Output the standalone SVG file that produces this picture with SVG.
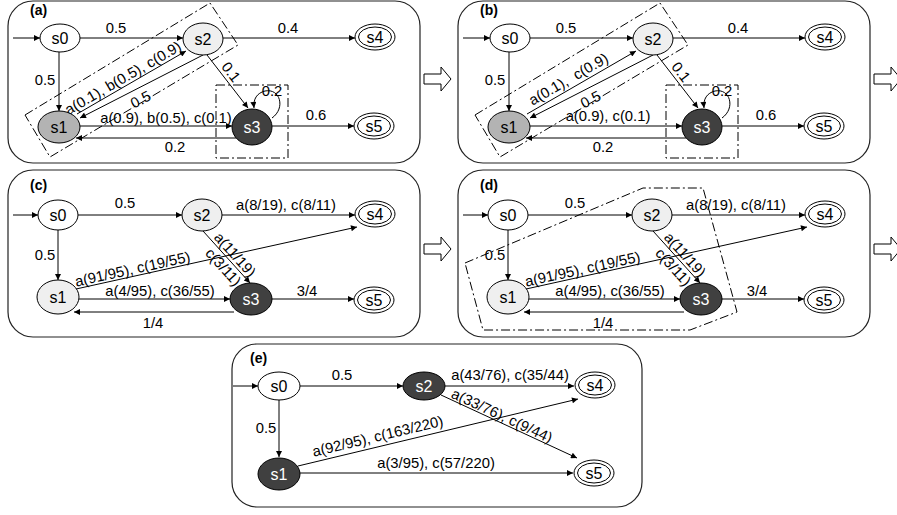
<svg xmlns="http://www.w3.org/2000/svg" width="897" height="515" viewBox="0 0 897 515">
<style>
.panel{fill:#fff;stroke:#222;stroke-width:1.2}
.n{stroke:#000;stroke-width:1}
.w{fill:#fff}.l{fill:#efefef}.g{fill:#b3b3b3}.d{fill:#404040}
.e{fill:none;stroke:#000;stroke-width:1;marker-end:url(#ah)}
.dd{fill:none;stroke:#000;stroke-width:1;stroke-dasharray:9,3,2,3}
text{font-family:"Liberation Sans",Arial,sans-serif;font-size:14.8px;fill:#000}
.c{text-anchor:middle}
.nt{font-size:16px}
.wt{fill:#fff}
.pl{font-weight:bold;font-size:14px}
.ba{fill:#fff;stroke:#000;stroke-width:1}
</style>
<defs>
<marker id="ah" viewBox="0 0 10 10" refX="10" refY="5" markerWidth="9" markerHeight="6" markerUnits="userSpaceOnUse" orient="auto"><path d="M0,0 L10,5 L0,10 z" fill="#000"/></marker>
<g id="fin"><ellipse rx="20" ry="13" class="n w"/><ellipse rx="16.5" ry="10" class="n w"/></g>
<polygon id="barrow" points="0,-5 17,-5 17,-12 27,0 17,12 17,5 0,5"/>
</defs>

<!-- panels -->
<rect class="panel" x="8" y="1" width="412" height="162" rx="25"/>
<rect class="panel" x="458" y="1" width="412" height="162" rx="25"/>
<rect class="panel" x="8" y="170" width="412" height="167" rx="25"/>
<rect class="panel" x="458" y="170" width="412" height="167" rx="25"/>
<rect class="panel" x="232" y="344" width="410" height="163" rx="25"/>
<use href="#barrow" class="ba" x="424" y="79"/>
<use href="#barrow" class="ba" x="874" y="79"/>
<use href="#barrow" class="ba" x="424" y="249"/>
<use href="#barrow" class="ba" x="874" y="249"/>
<text class="pl" x="30" y="15">(a)</text>
<text class="pl" x="480" y="15">(b)</text>
<text class="pl" x="30" y="190">(c)</text>
<text class="pl" x="480" y="190">(d)</text>
<text class="pl" x="250" y="363">(e)</text>

<!-- dash-dot groupings -->
<g id="groups">
<polygon class="dd" points="25,115 210,3 238,45 50,157"/>
<rect class="dd" x="216" y="85" width="72" height="73"/>
<polygon class="dd" points="475,115 660,3 688,45 500,157"/>
<rect class="dd" x="666" y="85" width="72" height="73"/>
<polygon class="dd" points="465,263 643,188 703,188 737,312 690,330 483,330"/>
</g>

<!-- connectors -->
<g id="connectors">
<!-- (a) -->
<path class="e" d="M13,38 L40,38"/>
<path class="e" d="M80,38 L183,38"/>
<path class="e" d="M59,52 L59,111"/>
<path class="e" d="M77,114 L186,51"/>
<path class="e" d="M203,55 L80,118"/>
<path class="e" d="M80,126 L232,126"/>
<path class="e" d="M236,138 L76,138"/>
<path class="e" d="M207,55 L248,108"/>
<path class="e" d="M272,118 C286,108 280,88 265,91 C257,93 253,99 254,108"/>
<path class="e" d="M223,38 L355,38"/>
<path class="e" d="M272,126 L354,126"/>
<!-- (b) -->
<path class="e" d="M463,38 L490,38"/>
<path class="e" d="M530,38 L633,38"/>
<path class="e" d="M509,52 L509,111"/>
<path class="e" d="M527,114 L636,51"/>
<path class="e" d="M653,55 L530,118"/>
<path class="e" d="M530,126 L682,126"/>
<path class="e" d="M686,138 L526,138"/>
<path class="e" d="M657,55 L698,108"/>
<path class="e" d="M722,118 C736,108 730,88 715,91 C707,93 703,99 704,108"/>
<path class="e" d="M673,38 L805,38"/>
<path class="e" d="M722,126 L804,126"/>
<!-- (c) -->
<path class="e" d="M13,215 L38,215"/>
<path class="e" d="M78,215 L182,215"/>
<path class="e" d="M58,230 L58,280"/>
<path class="e" d="M222,215 L355,215"/>
<path class="e" d="M76,289 L357,227"/>
<path class="e" d="M203,231 L250,283"/>
<path class="e" d="M79,299 L230,299"/>
<path class="e" d="M234,312 L74,312"/>
<path class="e" d="M272,299 L354,299"/>
<!-- (d) -->
<path class="e" d="M463,215 L488,215"/>
<path class="e" d="M528,215 L632,215"/>
<path class="e" d="M508,230 L508,280"/>
<path class="e" d="M672,215 L805,215"/>
<path class="e" d="M526,289 L807,227"/>
<path class="e" d="M653,231 L700,283"/>
<path class="e" d="M529,299 L680,299"/>
<path class="e" d="M684,312 L524,312"/>
<path class="e" d="M722,299 L804,299"/>
<!-- (e) -->
<path class="e" d="M233,386 L258,386"/>
<path class="e" d="M300,386 L403,386"/>
<path class="e" d="M279,400 L279,457"/>
<path class="e" d="M445,386 L574,386"/>
<path class="e" d="M441,395 L577,458"/>
<path class="e" d="M298,466 L578,399"/>
<path class="e" d="M300,473 L573,473"/>
</g>

<!-- connector labels -->
<g id="labels">
<!-- (a) -->
<text class="c" x="116" y="33">0.5</text>
<text class="c" x="45" y="85">0.5</text>
<text class="c" transform="translate(127,85) rotate(-30)" y="-3">a(0.1), b(0.5), c(0.9)</text>
<text class="c" transform="translate(143,104) rotate(-27)">0.5</text>
<text class="c" x="166" y="123">a(0.9), b(0.5), c(0.1)</text>
<text class="c" x="175" y="152">0.2</text>
<text class="c" transform="translate(231,72) rotate(52)" y="5">0.1</text>
<text class="c" x="272" y="96">0.2</text>
<text class="c" x="288" y="33">0.4</text>
<text class="c" x="316" y="120">0.6</text>
<!-- (b) -->
<text class="c" x="566" y="33">0.5</text>
<text class="c" x="495" y="85">0.5</text>
<text class="c" xml:space="preserve" transform="translate(573,87) rotate(-30)" y="-4">a(0.1),  c(0.9)</text>
<text class="c" transform="translate(593,104) rotate(-27)">0.5</text>
<text class="c" x="608" y="121">a(0.9), c(0.1)</text>
<text class="c" x="603" y="152">0.2</text>
<text class="c" transform="translate(681,72) rotate(52)" y="5">0.1</text>
<text class="c" x="722" y="96">0.2</text>
<text class="c" x="738" y="33">0.4</text>
<text class="c" x="766" y="120">0.6</text>
<!-- (c) -->
<text class="c" x="125" y="208">0.5</text>
<text class="c" x="45" y="260">0.5</text>
<text class="c" x="286" y="210">a(8/19), c(8/11)</text>
<text class="c" transform="translate(134,276) rotate(-12.4)" y="-2">a(91/95), c(19/55)</text>
<text class="c" transform="translate(229,260) rotate(48)" y="-3">a(11/19)</text>
<text class="c" transform="translate(230,261) rotate(48)" y="14">c(3/11)</text>
<text class="c" x="160" y="296">a(4/95), c(36/55)</text>
<text class="c" x="153" y="328">1/4</text>
<text class="c" x="307" y="296">3/4</text>
<!-- (d) -->
<text class="c" x="575" y="208">0.5</text>
<text class="c" x="495" y="260">0.5</text>
<text class="c" x="736" y="210">a(8/19), c(8/11)</text>
<text class="c" transform="translate(584,276) rotate(-12.4)" y="-2">a(91/95), c(19/55)</text>
<text class="c" transform="translate(679,260) rotate(48)" y="-3">a(11/19)</text>
<text class="c" transform="translate(680,261) rotate(48)" y="14">c(3/11)</text>
<text class="c" x="610" y="296">a(4/95), c(36/55)</text>
<text class="c" x="603" y="328">1/4</text>
<text class="c" x="757" y="296">3/4</text>
<!-- (e) -->
<text class="c" x="342" y="380">0.5</text>
<text class="c" x="266" y="433">0.5</text>
<text class="c" x="510" y="380">a(43/76), c(35/44)</text>
<text class="c" transform="translate(499,422) rotate(24.9)" y="-2">a(33/76), c(9/44)</text>
<text class="c" transform="translate(380,446) rotate(-13.5)" y="-5">a(92/95), c(163/220)</text>
<text class="c" x="436" y="468">a(3/95), c(57/220)</text>
</g>

<!-- nodes (a) -->
<g id="a-s0"><ellipse cx="60" cy="38" rx="20" ry="14" class="n w"/><text class="c nt" x="60" y="43.5">s0</text></g>
<g id="a-s2"><ellipse cx="203" cy="39" rx="20" ry="16" class="n l"/><text class="c nt" x="203" y="44.5">s2</text></g>
<g id="a-s4"><use href="#fin" x="375" y="37"/><text class="c nt" x="375" y="42.5">s4</text></g>
<g id="a-s1"><ellipse cx="59" cy="127" rx="21" ry="16" class="n g"/><text class="c nt" x="59" y="132.5">s1</text></g>
<g id="a-s3"><ellipse cx="252" cy="127" rx="20" ry="18" class="n d"/><text class="c nt wt" x="252" y="132.5">s3</text></g>
<g id="a-s5"><use href="#fin" x="374" y="126"/><text class="c nt" x="374" y="131.5">s5</text></g>
<!-- nodes (b) -->
<g id="b-s0"><ellipse cx="510" cy="38" rx="20" ry="14" class="n w"/><text class="c nt" x="510" y="43.5">s0</text></g>
<g id="b-s2"><ellipse cx="653" cy="39" rx="20" ry="16" class="n l"/><text class="c nt" x="653" y="44.5">s2</text></g>
<g id="b-s4"><use href="#fin" x="825" y="37"/><text class="c nt" x="825" y="42.5">s4</text></g>
<g id="b-s1"><ellipse cx="509" cy="127" rx="21" ry="16" class="n g"/><text class="c nt" x="509" y="132.5">s1</text></g>
<g id="b-s3"><ellipse cx="702" cy="127" rx="20" ry="18" class="n d"/><text class="c nt wt" x="702" y="132.5">s3</text></g>
<g id="b-s5"><use href="#fin" x="824" y="126"/><text class="c nt" x="824" y="131.5">s5</text></g>
<!-- nodes (c) -->
<g id="c-s0"><ellipse cx="58" cy="215" rx="20" ry="15" class="n w"/><text class="c nt" x="58" y="220.5">s0</text></g>
<g id="c-s2"><ellipse cx="202" cy="215" rx="20" ry="16" class="n l"/><text class="c nt" x="202" y="220.5">s2</text></g>
<g id="c-s4"><use href="#fin" x="375" y="214"/><text class="c nt" x="375" y="219.5">s4</text></g>
<g id="c-s1"><ellipse cx="58" cy="297" rx="21" ry="17" class="n l"/><text class="c nt" x="58" y="302.5">s1</text></g>
<g id="c-s3"><ellipse cx="251" cy="299" rx="21" ry="16" class="n d"/><text class="c nt wt" x="251" y="304.5">s3</text></g>
<g id="c-s5"><use href="#fin" x="374" y="300"/><text class="c nt" x="374" y="305.5">s5</text></g>
<!-- nodes (d) -->
<g id="d-s0"><ellipse cx="508" cy="215" rx="20" ry="15" class="n w"/><text class="c nt" x="508" y="220.5">s0</text></g>
<g id="d-s2"><ellipse cx="652" cy="215" rx="20" ry="16" class="n l"/><text class="c nt" x="652" y="220.5">s2</text></g>
<g id="d-s4"><use href="#fin" x="825" y="214"/><text class="c nt" x="825" y="219.5">s4</text></g>
<g id="d-s1"><ellipse cx="508" cy="297" rx="21" ry="17" class="n l"/><text class="c nt" x="508" y="302.5">s1</text></g>
<g id="d-s3"><ellipse cx="701" cy="299" rx="21" ry="16" class="n d"/><text class="c nt wt" x="701" y="304.5">s3</text></g>
<g id="d-s5"><use href="#fin" x="824" y="300"/><text class="c nt" x="824" y="305.5">s5</text></g>
<!-- nodes (e) -->
<g id="e-s0"><ellipse cx="279" cy="386" rx="21" ry="14" class="n w"/><text class="c nt" x="279" y="391.5">s0</text></g>
<g id="e-s2"><ellipse cx="424" cy="386" rx="21" ry="14" class="n d"/><text class="c nt wt" x="424" y="391.5">s2</text></g>
<g id="e-s4"><use href="#fin" x="595" y="385"/><text class="c nt" x="595" y="390.5">s4</text></g>
<g id="e-s1"><ellipse cx="279" cy="474" rx="21" ry="16" class="n d"/><text class="c nt wt" x="279" y="479.5">s1</text></g>
<g id="e-s5"><use href="#fin" x="594" y="473"/><text class="c nt" x="594" y="478.5">s5</text></g>
</svg>
